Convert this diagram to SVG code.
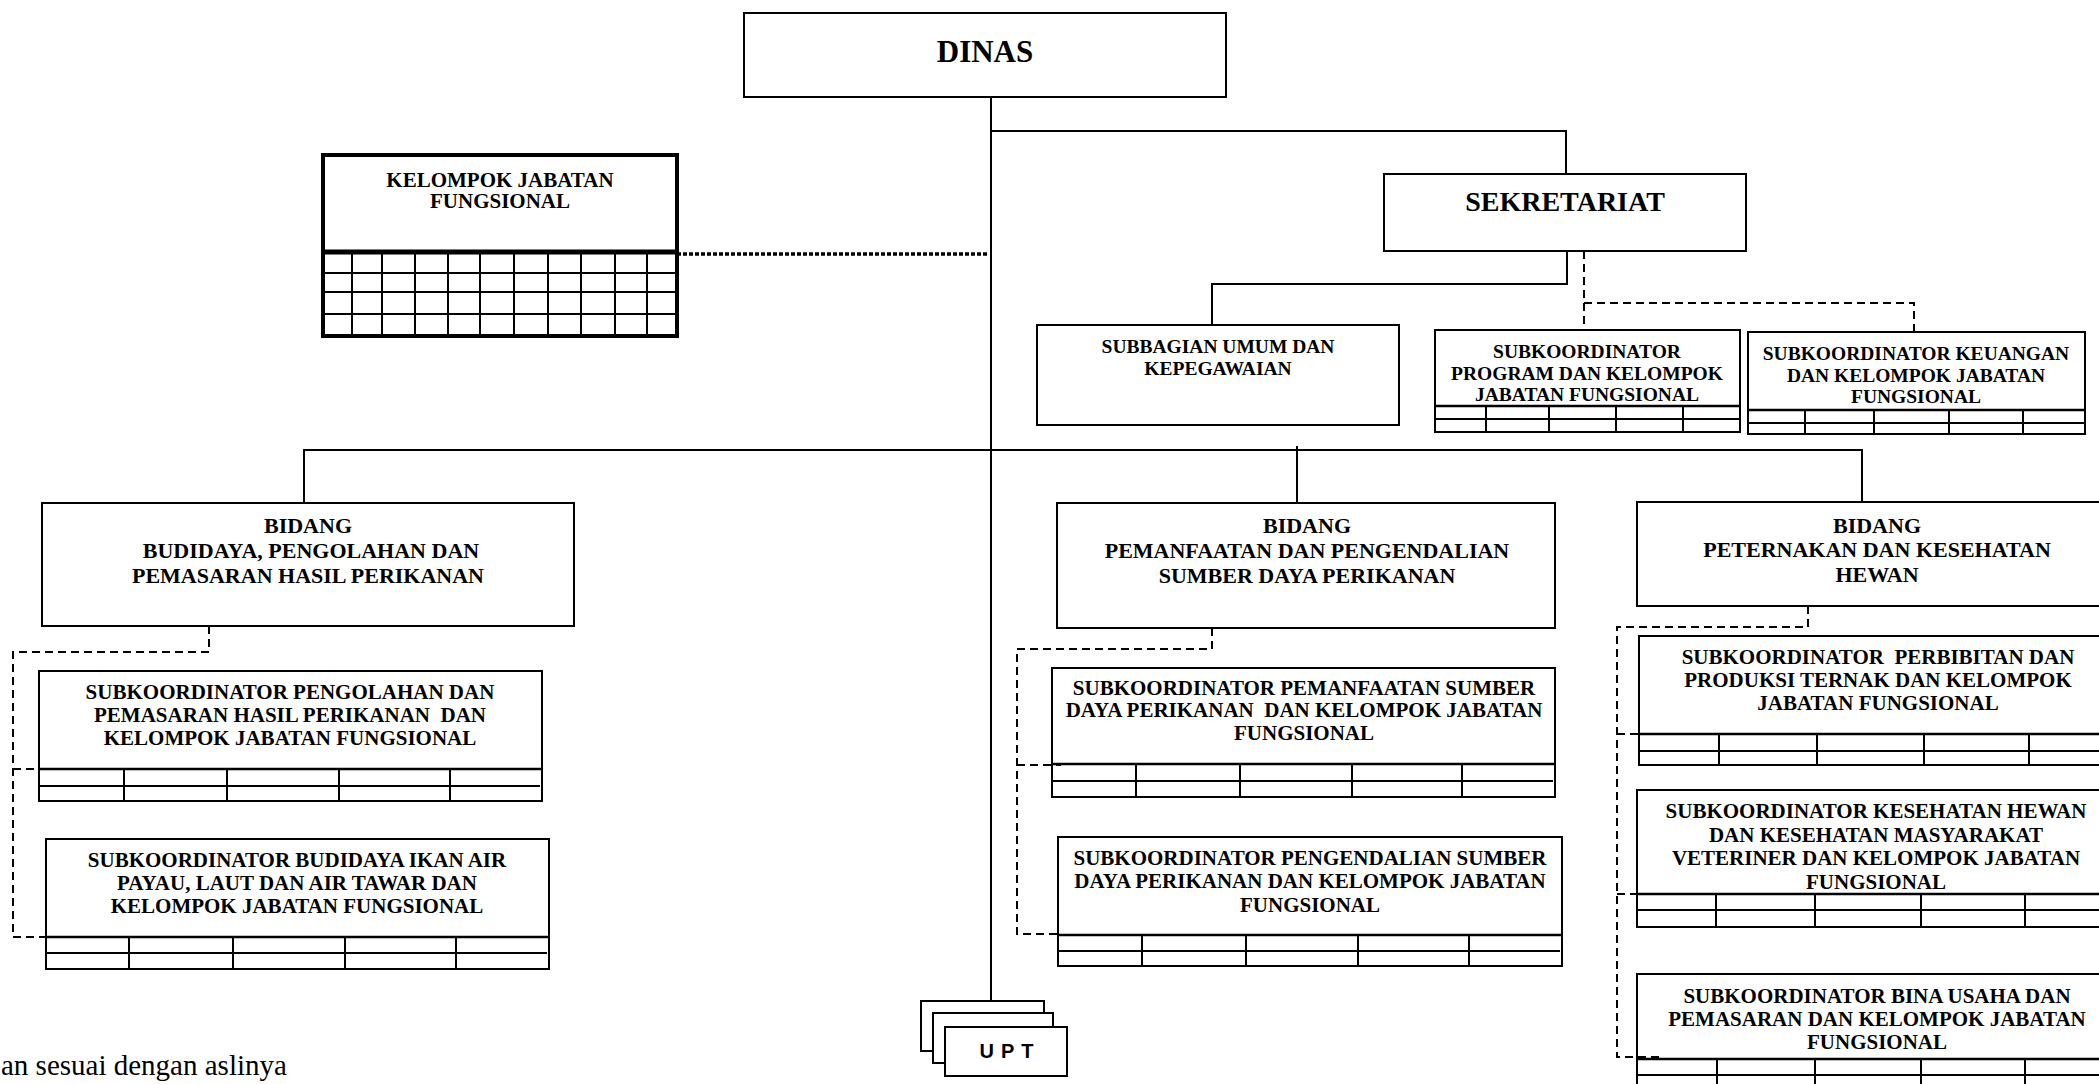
<svg xmlns="http://www.w3.org/2000/svg" width="2099" height="1084" viewBox="0 0 2099 1084">
<style>
.box{fill:#fff;stroke:#000;stroke-width:2}
.thick{fill:#fff;stroke:#000;stroke-width:4}
.ln{stroke:#000;stroke-width:2;fill:none}
.tb{stroke:#000;stroke-width:2.6;fill:none}
.dash{stroke:#000;stroke-width:2;fill:none;stroke-dasharray:8 5}
.dot{stroke:#000;stroke-width:3.5;fill:none;stroke-dasharray:4 2}
text{font-family:"Liberation Serif","Times New Roman",serif;font-weight:bold;text-anchor:middle;white-space:pre;fill:#000}
.t31{font-size:31px}
.t28{font-size:28px}
.t22{font-size:22px}
.t21{font-size:21px}
.t19{font-size:19.5px}
.upt{font-family:"Liberation Sans",Arial,sans-serif;font-size:20px;letter-spacing:7px}
.note{font-weight:normal;text-anchor:start;font-size:29px}
</style>
<rect width="2099" height="1084" fill="#fff"/>

<g id="dinas">
<rect class="box" x="744" y="13" width="482" height="84"/>
<text class="t31" x="985" y="62">DINAS</text>
</g>

<g id="kelompok-jabatan-fungsional">
<rect class="thick" x="323" y="155" width="354" height="181"/>
<path class="ln" d="M323 273H677M323 292H677M323 314H677M352 252V336M382 252V336M415 252V336M448 252V336M480 252V336M514 252V336M548 252V336M581 252V336M615 252V336M647 252V336"/>
<path stroke="#000" stroke-width="5" d="M323 252H677"/>
<text class="t21" x="500" y="187">KELOMPOK JABATAN</text>
<text class="t21" x="500" y="208">FUNGSIONAL</text>
</g>

<g id="sekretariat">
<rect class="box" x="1384" y="174" width="362" height="77"/>
<text class="t28" x="1565" y="211">SEKRETARIAT</text>
</g>

<g id="subbagian-umum">
<rect class="box" x="1037" y="325" width="362" height="100"/>
<text class="t19" x="1218" y="353">SUBBAGIAN UMUM DAN</text>
<text class="t19" x="1218" y="375">KEPEGAWAIAN</text>
</g>

<g id="subkoordinator-program">
<rect class="box" x="1435" y="330" width="305" height="102"/>
<path class="tb" d="M1435 406H1740"/>
<path class="ln" d="M1435 419H1740M1486 406V432M1549 406V432M1616 406V432M1683 406V432"/>
<text class="t19" x="1587" y="358">SUBKOORDINATOR</text>
<text class="t19" x="1587" y="380">PROGRAM DAN KELOMPOK</text>
<text class="t19" x="1587" y="401">JABATAN FUNGSIONAL</text>
</g>

<g id="subkoordinator-keuangan">
<rect class="box" x="1748" y="332" width="337" height="102"/>
<path class="tb" d="M1748 410H2085"/>
<path class="ln" d="M1748 423H2085M1805 410V434M1874 410V434M1949 410V434M2023 410V434"/>
<text class="t19" x="1916" y="360">SUBKOORDINATOR KEUANGAN</text>
<text class="t19" x="1916" y="382">DAN KELOMPOK JABATAN</text>
<text class="t19" x="1916" y="403">FUNGSIONAL</text>
</g>

<g id="bidang-budidaya">
<rect class="box" x="42" y="503" width="532" height="123"/>
<text class="t22" x="308" y="533">BIDANG</text>
<text class="t22" x="311" y="558">BUDIDAYA, PENGOLAHAN DAN</text>
<text class="t22" x="308" y="583">PEMASARAN HASIL PERIKANAN</text>
</g>

<g id="bidang-pemanfaatan">
<rect class="box" x="1057" y="503" width="498" height="125"/>
<text class="t22" x="1307" y="533">BIDANG</text>
<text class="t22" x="1307" y="558">PEMANFAATAN DAN PENGENDALIAN</text>
<text class="t22" x="1307" y="583">SUMBER DAYA PERIKANAN</text>
</g>

<g id="bidang-peternakan">
<rect class="box" x="1637" y="502" width="480" height="104"/>
<text class="t22" x="1877" y="533">BIDANG</text>
<text class="t22" x="1877" y="557">PETERNAKAN DAN KESEHATAN</text>
<text class="t22" x="1877" y="582">HEWAN</text>
</g>

<g id="subkoordinator-pengolahan">
<rect class="box" x="39" y="671" width="503" height="130"/>
<path class="tb" d="M39 769H542"/>
<path class="ln" d="M39 786H540M124 769V801M227 769V801M339 769V801M450 769V801"/>
<text class="t21" x="290" y="699">SUBKOORDINATOR PENGOLAHAN DAN</text>
<text class="t21" x="290" y="722">PEMASARAN HASIL PERIKANAN  DAN</text>
<text class="t21" x="290" y="745">KELOMPOK JABATAN FUNGSIONAL</text>
</g>

<g id="subkoordinator-budidaya">
<rect class="box" x="46" y="839" width="503" height="130"/>
<path class="tb" d="M46 937H549"/>
<path class="ln" d="M46 953H547M129 937V969M233 937V969M345 937V969M456 937V969"/>
<text class="t21" x="297" y="867">SUBKOORDINATOR BUDIDAYA IKAN AIR</text>
<text class="t21" x="297" y="890">PAYAU, LAUT DAN AIR TAWAR DAN</text>
<text class="t21" x="297" y="913">KELOMPOK JABATAN FUNGSIONAL</text>
</g>

<g id="subkoordinator-pemanfaatan">
<rect class="box" x="1052" y="668" width="503" height="129"/>
<path class="tb" d="M1052 764H1555"/>
<path class="ln" d="M1052 781H1553M1136 764V797M1240 764V797M1352 764V797M1462 764V797"/>
<text class="t21" x="1304" y="695">SUBKOORDINATOR PEMANFAATAN SUMBER</text>
<text class="t21" x="1304" y="717">DAYA PERIKANAN  DAN KELOMPOK JABATAN</text>
<text class="t21" x="1304" y="740">FUNGSIONAL</text>
</g>

<g id="subkoordinator-pengendalian">
<rect class="box" x="1058" y="837" width="504" height="129"/>
<path class="tb" d="M1058 935H1562"/>
<path class="ln" d="M1058 951H1560M1142 935V966M1246 935V966M1358 935V966M1469 935V966"/>
<text class="t21" x="1310" y="865">SUBKOORDINATOR PENGENDALIAN SUMBER</text>
<text class="t21" x="1310" y="888">DAYA PERIKANAN DAN KELOMPOK JABATAN</text>
<text class="t21" x="1310" y="912">FUNGSIONAL</text>
</g>

<g id="subkoordinator-perbibitan">
<rect class="box" x="1639" y="636" width="478" height="129"/>
<path class="tb" d="M1639 734H2117"/>
<path class="ln" d="M1639 751H2117M1719 734V765M1817 734V765M1924 734V765M2029 734V765"/>
<text class="t21" x="1878" y="664">SUBKOORDINATOR  PERBIBITAN DAN</text>
<text class="t21" x="1878" y="687">PRODUKSI TERNAK DAN KELOMPOK</text>
<text class="t21" x="1878" y="710">JABATAN FUNGSIONAL</text>
</g>

<g id="subkoordinator-kesehatan">
<rect class="box" x="1637" y="790" width="480" height="137"/>
<path class="tb" d="M1637 894H2117"/>
<path class="ln" d="M1637 910H2117M1716 894V927M1815 894V927M1921 894V927M2025 894V927"/>
<text class="t21" x="1876" y="818">SUBKOORDINATOR KESEHATAN HEWAN</text>
<text class="t21" x="1876" y="842">DAN KESEHATAN MASYARAKAT</text>
<text class="t21" x="1876" y="865">VETERINER DAN KELOMPOK JABATAN</text>
<text class="t21" x="1876" y="889">FUNGSIONAL</text>
</g>

<g id="subkoordinator-bina-usaha">
<rect class="box" x="1637" y="974" width="480" height="120"/>
<path class="tb" d="M1637 1059H2117"/>
<path class="ln" d="M1637 1075H2117M1717 1059V1094M1815 1059V1094M1921 1059V1094M2025 1059V1094"/>
<text class="t21" x="1877" y="1003">SUBKOORDINATOR BINA USAHA DAN</text>
<text class="t21" x="1877" y="1026">PEMASARAN DAN KELOMPOK JABATAN</text>
<text class="t21" x="1877" y="1049">FUNGSIONAL</text>
</g>

<g id="upt">
<rect class="box" x="921" y="1001" width="123" height="50" stroke-width="2.5"/>
<rect class="box" x="933" y="1013" width="120" height="50" stroke-width="2.5"/>
<rect class="box" x="945" y="1027" width="122" height="49" stroke-width="2.5"/>
<text class="upt" x="1010" y="1058">UPT</text>
</g>

<g id="connectors">
<path class="ln" d="M991 97V1001"/>
<path class="ln" d="M991 131H1566V174"/>
<path class="ln" d="M1567 251V284H1212V325"/>
<path class="ln" d="M304 503V450H1862V502"/>
<path class="ln" d="M1297 446V503"/>
<path class="dot" d="M677 254H989"/>
<path class="dash" d="M1584 251V330"/>
<path class="dash" d="M1584 303H1914V332"/>
<path class="dash" d="M209 626V652H13V937H58"/>
<path class="dash" d="M13 769H52"/>
<path class="dash" d="M1212 628V649H1017V934H1061"/>
<path class="dash" d="M1017 765H1061"/>
<path class="dash" d="M1808 606V627H1617V1057H1662"/>
<path class="dash" d="M1617 734H1659"/>
<path class="dash" d="M1617 894H1662"/>
</g>

<text class="note" x="1" y="1075">an sesuai dengan aslinya</text>
</svg>
